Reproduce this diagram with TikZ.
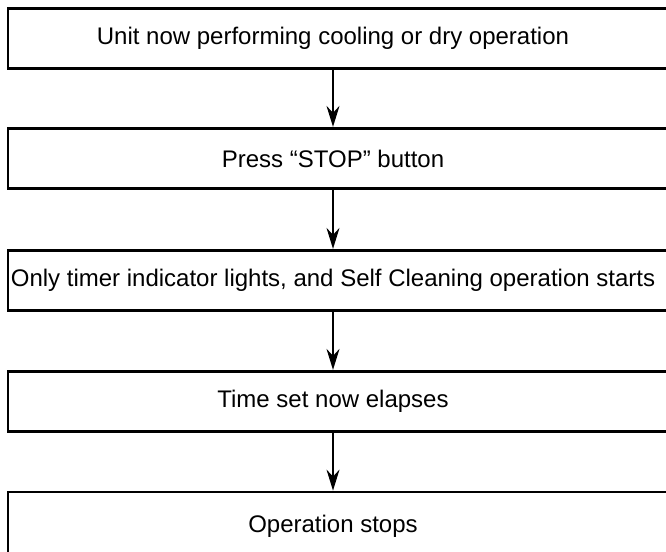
\documentclass[tikz,border=0pt]{standalone}
\usepackage{fontspec}
\setmainfont{Liberation Sans}
\usetikzlibrary{arrows.meta}
\tikzset{
  stepbox/.style={draw=black, line width=2.8pt, rectangle, minimum width=672pt, minimum height=60.5pt, inner sep=0pt, font=\fontsize{24pt}{28pt}\selectfont},
  flowarrow/.style={draw=black, line width=1.5pt, -{Stealth[length=21pt,width=13pt,inset=7pt]}}
}
\newcommand{\boxtext}[1]{\makebox[672pt][l]{\makebox[650pt][c]{#1}}}
\begin{document}
\begin{tikzpicture}[x=1pt,y=-1pt]
\useasboundingbox (0,0) rectangle (666,551);
\clip (0,0) rectangle (666,551);
\fill[white] (0,0) rectangle (666,551);
\coordinate (ax) at (333,0);
\node[stepbox] (b1) at (344,38.5) {\boxtext{Unit now performing cooling or dry operation}};
\node[stepbox] (b2) at (344,158.5) {\boxtext{Press “STOP” button}};
\node[stepbox] (b3) at (344,280.5) {\boxtext{Only timer indicator lights, and Self Cleaning operation starts}};
\node[stepbox] (b4) at (344,401.5) {\boxtext{Time set now elapses}};
\node[stepbox, minimum height=68pt] (b5) at (344,526) {\raisebox{3.5pt}{\boxtext{Operation stops}}};
\draw[flowarrow] (b1.south -| ax) -- (b2.north -| ax);
\draw[flowarrow] (b2.south -| ax) -- (b3.north -| ax);
\draw[flowarrow] (b3.south -| ax) -- (b4.north -| ax);
\draw[flowarrow] (b4.south -| ax) -- (b5.north -| ax);
\end{tikzpicture}
\end{document}
